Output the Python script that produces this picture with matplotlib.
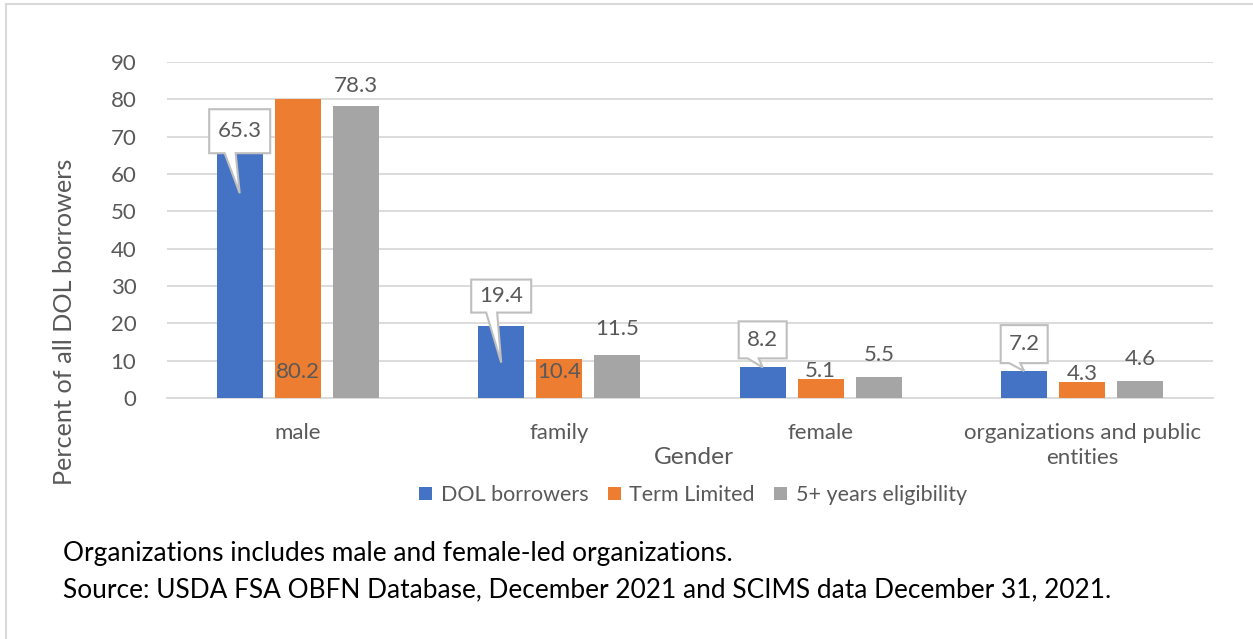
import matplotlib
matplotlib.use("Agg")
import matplotlib.pyplot as plt
import matplotlib.transforms as mtransforms
from matplotlib.patches import Polygon
import numpy as np

categories = ["male", "family", "female", "organizations and public\nentities"]
series_names = ["DOL borrowers", "Term Limited", "5+ years eligibility"]
dol_borrowers = [65.3, 19.4, 8.2, 7.2]
term_limited = [80.2, 10.4, 5.1, 4.3]
five_plus_years = [78.3, 11.5, 5.5, 4.6]
y_ticks = [0, 10, 20, 30, 40, 50, 60, 70, 80, 90]

colors = ["#4472C4", "#ED7D31", "#A5A5A5"]
text_color = "#595959"
grid_color = "#D9D9D9"
FONT = "Lato"
FS = 16

W, H = 1253, 639
fig = plt.figure(figsize=(W / 100, H / 100), dpi=100)
fig.patch.set_facecolor("white")

def px(x0, y0, x1, y1):
    return [x0 / W, 1 - y1 / H, (x1 - x0) / W, (y1 - y0) / H]

ax = fig.add_axes(px(167, 62, 1213, 398))
ax.set_xlim(-0.5, 3.5)
ax.set_ylim(0, 90)

x = np.arange(len(categories))
bw = 0.176
step = 0.222
all_series = [dol_borrowers, term_limited, five_plus_years]
bars = []
for i, (vals, c, name) in enumerate(zip(all_series, colors, series_names)):
    b = ax.bar(x + (i - 1) * step, vals, width=bw, color=c, label=name, zorder=3)
    bars.append(b)

ax.set_yticks(y_ticks)
ax.set_yticklabels([str(t) for t in y_ticks], fontsize=FS, color=text_color, family=FONT)
ax.set_xticks(x)
ax.set_xticklabels(categories, fontsize=FS, color=text_color, family=FONT, linespacing=1.3)
ax.tick_params(axis="both", length=0)
ax.tick_params(axis="y", pad=22)
ax.tick_params(axis="x", pad=18)
ax.grid(axis="y", color=grid_color, linewidth=1.3, zorder=0)
for s in ["top", "right", "left"]:
    ax.spines[s].set_visible(False)
ax.spines["bottom"].set_color(grid_color)
ax.spines["bottom"].set_linewidth(1.3)

# Plain labels
lab_kw = dict(fontsize=FS, color=text_color, family=FONT, ha="center", zorder=5)
def off_text(xd, yd, dy_px, s):
    tr = mtransforms.offset_copy(ax.transData, fig=fig, x=0, y=dy_px, units="dots")
    ax.text(xd, yd, s, transform=tr, va="center", **lab_kw)

# male: term limited label inside bottom, gray above
off_text(x[0], 0, 26, f"{term_limited[0]}")
off_text(x[0] + step, five_plus_years[0], 20, f"{five_plus_years[0]}")
# family
off_text(x[1], term_limited[1], -13, f"{term_limited[1]}")
off_text(x[1] + step, five_plus_years[1], 26, f"{five_plus_years[1]}")
# female / orgs
for k in [2, 3]:
    off_text(x[k], term_limited[k], 8, f"{term_limited[k]}")
    off_text(x[k] + step, five_plus_years[k], 22, f"{five_plus_years[k]}")

# Callouts for DOL borrowers: (box width, box height, box bottom above bar top, tip below bar top)
callout_geom = [(61, 44, 1, 39), (60, 33, 13, 37), (48, 37, 9, 0), (47, 38, 8, 0)]
for k, (bwid, bh, above, tipd) in enumerate(callout_geom):
    xd = x[k] - step
    yd = dol_borrowers[k]
    tr = fig.dpi_scale_trans + mtransforms.ScaledTranslation(xd, yd, ax.transData)
    s = 1 / 100.0
    b0 = above
    verts = [(-bwid / 2, b0), (-15, b0), (0, -tipd), (-4, b0), (bwid / 2, b0),
             (bwid / 2, b0 + bh), (-bwid / 2, b0 + bh)]
    verts = [(vx * s, vy * s) for vx, vy in verts]
    poly = Polygon(verts, closed=True, facecolor="white", edgecolor="#BFBFBF",
                   linewidth=1.5, transform=tr, zorder=6, clip_on=False)
    ax.add_patch(poly)
    ax.text(0, (b0 + bh / 2) * s, f"{dol_borrowers[k]}", transform=tr, va="center",
            fontsize=FS, color=text_color, family=FONT, ha="center", zorder=7)

# Axis titles
fig.text(694 / W, 1 - 458 / H, "Gender", ha="center", va="center", fontsize=17.6,
         color=text_color, family=FONT)
fig.text(65 / W, 1 - 322 / H, "Percent of all DOL borrowers", ha="center", va="center",
         rotation=90, fontsize=18.2, color=text_color, family=FONT)

# Legend
leg = fig.legend(handles=bars, labels=series_names, loc="center", bbox_to_anchor=(693 / W, 1 - 495 / H),
                 ncol=3, frameon=False, handlelength=0.6, handleheight=0.6,
                 handletextpad=0.4, columnspacing=0.9, prop={"family": FONT, "size": 15.5})
for t in leg.get_texts():
    t.set_color(text_color)

# Footnotes
fig.text(63 / W, 1 - 553 / H, "Organizations includes male and female-led organizations.",
         ha="left", va="center", fontsize=18.9, color="black", family=FONT)
fig.text(63 / W, 1 - 590 / H, "Source: USDA FSA OBFN Database, December 2021 and SCIMS data December 31, 2021.",
         ha="left", va="center", fontsize=18.9, color="black", family=FONT)

# Border (left and top visible)
fig.add_artist(plt.Line2D([6 / W, 6 / W], [0, 1 - 4 / H], transform=fig.transFigure, color="#D9D9D9", lw=1.5))
fig.add_artist(plt.Line2D([6 / W, 1], [1 - 4 / H, 1 - 4 / H], transform=fig.transFigure, color="#D9D9D9", lw=1.5))

fig.savefig("out.png", dpi=100)
